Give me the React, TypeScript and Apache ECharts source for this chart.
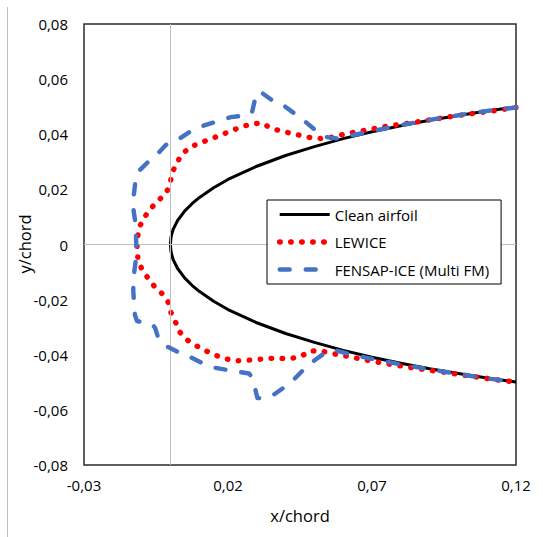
import React, { useEffect, useRef } from "react";
import * as echarts from "echarts";

// ---- Data ----
const xTickLabels = [-0.03, 0.02, 0.07, 0.12];
const yTickLabels = [-0.08, -0.06, -0.04, -0.02, 0, 0.02, 0.04, 0.06, 0.08];
const xTitle = "x/chord";
const yTitle = "y/chord";

// Clean airfoil: chordwise stations and half-thickness (symmetric section)
const airfoilX = [0.12, 0.11, 0.10, 0.09, 0.08, 0.07, 0.06, 0.05, 0.04, 0.03, 0.02, 0.015, 0.01, 0.0075, 0.005, 0.0025, 0.001, 0.0005, 0.0002, 0];
const airfoilHalfT = [0.0499, 0.0484, 0.0468, 0.0451, 0.0431, 0.0409, 0.0384, 0.0355, 0.0323, 0.0284, 0.0236, 0.0206, 0.0170, 0.0148, 0.0122, 0.0087, 0.0056, 0.0039, 0.0025, 0];

// LEWICE ice shape (upper trailing -> leading edge -> lower trailing)
const lewice: [number, number][] = [
  [0.1200, 0.0497], [0.1121, 0.0485], [0.1048, 0.0475], [0.0973, 0.0464], [0.0901, 0.0452],
  [0.0826, 0.0440], [0.0755, 0.0430], [0.0678, 0.0415], [0.0606, 0.0401], [0.0569, 0.0391],
  [0.0531, 0.0384], [0.0494, 0.0386], [0.0458, 0.0394], [0.0422, 0.0403], [0.0385, 0.0411],
  [0.0350, 0.0422], [0.0317, 0.0441], [0.0281, 0.0437], [0.0244, 0.0426], [0.0210, 0.0412],
  [0.0175, 0.0397], [0.0138, 0.0382], [0.0103, 0.0369], [0.0072, 0.0355], [0.0043, 0.0331],
  [0.0022, 0.0297], [0.0007, 0.0261], [-0.0001, 0.0223], [-0.0014, 0.0188], [-0.0041, 0.0160],
  [-0.0067, 0.0132], [-0.0089, 0.0101], [-0.0106, 0.0067], [-0.0114, 0.0028], [-0.0116, -0.0010],
  [-0.0113, -0.0049], [-0.0101, -0.0085], [-0.0080, -0.0119], [-0.0057, -0.0150], [-0.0030, -0.0177],
  [-0.0008, -0.0209], [0.0002, -0.0247], [0.0018, -0.0282], [0.0033, -0.0318], [0.0059, -0.0347],
  [0.0091, -0.0368], [0.0124, -0.0386], [0.0157, -0.0402], [0.0193, -0.0415], [0.0230, -0.0422],
  [0.0267, -0.0420], [0.0304, -0.0417], [0.0341, -0.0413], [0.0378, -0.0413], [0.0415, -0.0414],
  [0.0452, -0.0407], [0.0485, -0.0386], [0.0522, -0.0386], [0.0558, -0.0395], [0.0595, -0.0402],
  [0.0632, -0.0409], [0.0668, -0.0417], [0.0705, -0.0424], [0.0742, -0.0431], [0.0777, -0.0437],
  [0.0815, -0.0443], [0.0853, -0.0449], [0.0890, -0.0455], [0.0927, -0.0460], [0.0963, -0.0465],
  [0.1000, -0.0471], [0.1037, -0.0477], [0.1073, -0.0482], [0.1112, -0.0488], [0.1148, -0.0493],
  [0.1200, -0.0499],
];

// FENSAP-ICE (Multi FM) ice shape
const fensap: [number, number][] = [
  [0.1200, 0.0497], [0.1100, 0.0485], [0.1000, 0.0469], [0.0900, 0.0452], [0.0800, 0.0433],
  [0.0700, 0.0411], [0.0630, 0.0396], [0.0577, 0.0385], [0.0531, 0.0391], [0.0461, 0.0452],
  [0.0386, 0.0510], [0.0352, 0.0524], [0.0318, 0.0550], [0.0308, 0.0555], [0.0297, 0.0542],
  [0.0283, 0.0478], [0.0269, 0.0468], [0.0242, 0.0466], [0.0210, 0.0462], [0.0172, 0.0450],
  [0.0103, 0.0427], [0.0068, 0.0409], [0.0033, 0.0385], [-0.0016, 0.0361], [-0.0048, 0.0325],
  [-0.0082, 0.0295], [-0.0106, 0.0270], [-0.0118, 0.0252], [-0.0123, 0.0216], [-0.0129, 0.0162],
  [-0.0129, 0.0132], [-0.0123, 0.0089], [-0.0119, 0.0016], [-0.0118, -0.0020], [-0.0121, -0.0064],
  [-0.0126, -0.0103], [-0.0129, -0.0165], [-0.0126, -0.0220], [-0.0123, -0.0256], [-0.0116, -0.0278],
  [-0.0099, -0.0281], [-0.0064, -0.0288], [-0.0053, -0.0303], [-0.0043, -0.0336], [-0.0026, -0.0361],
  [-0.0008, -0.0372], [0.0026, -0.0390], [0.0068, -0.0408], [0.0110, -0.0430], [0.0148, -0.0446],
  [0.0197, -0.0455], [0.0242, -0.0463], [0.0273, -0.0468], [0.0283, -0.0481], [0.0294, -0.0522],
  [0.0302, -0.0557], [0.0323, -0.0558], [0.0357, -0.0546], [0.0398, -0.0516], [0.0433, -0.0485],
  [0.0467, -0.0449], [0.0502, -0.0419], [0.0537, -0.0393], [0.0577, -0.0385], [0.0630, -0.0400],
  [0.0700, -0.0415], [0.0800, -0.0435], [0.0900, -0.0453], [0.1000, -0.0470], [0.1100, -0.0486],
  [0.1200, -0.0499],
];

const seriesNames = ["Clean airfoil", "LEWICE", "FENSAP-ICE (Multi FM)"];

const FONT = "'Open Sans', sans-serif";
const fmt = (v: number) => (Math.abs(v) < 1e-9 ? "0" : v.toFixed(2).replace(".", ","));

const cleanStyle = { color: "#000000", width: 3, join: "round" };
const lewiceStyle = { color: "#ff0000", width: 5.4, type: [0.5, 10.5], cap: "round", join: "round" };
const fensapStyle = { color: "#4472c4", width: 4.4, type: [10, 16], cap: "round", join: "round" };

export default function App() {
  const ref = useRef<HTMLDivElement>(null);
  useEffect(() => {
    if (!ref.current) return;
    const chart = echarts.init(ref.current, undefined, { renderer: "svg" });

    const upper = airfoilX.map((x, i) => [x, airfoilHalfT[i]]);
    const lower = airfoilX
      .map((x, i) => [x, -airfoilHalfT[i]])
      .slice(0, -1)
      .reverse();
    const clean = [...upper, ...lower];

    const option: any = {
      animation: false,
      backgroundColor: "#ffffff",
      textStyle: { fontFamily: FONT },
      grid: {
        left: 84,
        top: 24,
        width: 432,
        height: 441,
        show: true,
        borderColor: "#2b2b2b",
        borderWidth: 1.5,
        backgroundColor: "transparent",
      },
      xAxis: {
        type: "value",
        min: -0.03,
        max: 0.12,
        name: xTitle,
        nameLocation: "middle",
        nameGap: 42,
        nameTextStyle: { fontSize: 16.5, color: "#000", fontFamily: FONT },
        axisLine: { show: false },
        axisTick: { show: false },
        splitLine: { show: false },
        axisLabel: {
          customValues: xTickLabels,
          formatter: (v: number) => fmt(v),
          fontSize: 15,
          color: "#000",
          margin: 12,
          fontFamily: FONT,
        },
      },
      yAxis: {
        type: "value",
        min: -0.08,
        max: 0.08,
        axisLine: { show: false },
        axisTick: { show: false },
        splitLine: { show: false },
        axisLabel: {
          customValues: yTickLabels,
          formatter: (v: number) => fmt(v),
          fontSize: 15,
          color: "#000",
          margin: 16,
          fontFamily: FONT,
        },
      },
      legend: {
        data: [
          { name: seriesNames[0], lineStyle: { width: cleanStyle.width } },
          { name: seriesNames[1], lineStyle: { width: lewiceStyle.width } },
          { name: seriesNames[2], lineStyle: { width: fensapStyle.width } },
        ],
        orient: "vertical",
        left: 267,
        top: 200,
        padding: [7, 12, 7, 10],
        itemWidth: 50,
        itemHeight: 14,
        itemGap: 12.5,
        borderColor: "#000",
        borderWidth: 1,
        backgroundColor: "#ffffff",
        itemStyle: { opacity: 0 },
        textStyle: { fontSize: 15, color: "#000", fontFamily: FONT },
        selectedMode: false,
        z: 10,
      },
      graphic: [
        {
          type: "line",
          shape: { x1: 7.5, y1: 7, x2: 7.5, y2: 537 },
          style: { stroke: "#c0c0c0", lineWidth: 1 },
          silent: true,
        },
        {
          type: "text",
          x: 24,
          y: 244,
          rotation: Math.PI / 2,
          silent: true,
          style: {
            text: yTitle,
            fontSize: 16.5,
            fontFamily: FONT,
            fill: "#000",
            align: "center",
            verticalAlign: "middle",
          },
        },
      ],
      series: [
        {
          name: "zero",
          type: "line",
          data: [],
          z: 1,
          silent: true,
          markLine: {
            silent: true,
            symbol: ["none", "none"],
            label: { show: false },
            lineStyle: { color: "#bfbfbf", width: 1, type: "solid" },
            data: [{ xAxis: 0 }, { yAxis: 0 }],
          },
        },
        {
          name: seriesNames[0],
          type: "line",
          data: clean,
          showSymbol: false,
          symbol: "none",
          z: 3,
          lineStyle: cleanStyle,
          itemStyle: { color: cleanStyle.color },
        },
        {
          name: seriesNames[1],
          type: "line",
          data: lewice,
          showSymbol: false,
          symbol: "none",
          z: 4,
          lineStyle: lewiceStyle,
          itemStyle: { color: lewiceStyle.color },
        },
        {
          name: seriesNames[2],
          type: "line",
          data: fensap,
          showSymbol: false,
          symbol: "none",
          z: 5,
          lineStyle: fensapStyle,
          itemStyle: { color: fensapStyle.color },
        },
      ],
    };
    chart.setOption(option);
    return () => chart.dispose();
  }, []);

  return (
    <div
      ref={ref}
      style={{ position: "fixed", left: 0, top: 0, width: 543, height: 537, background: "#fff" }}
    />
  );
}
